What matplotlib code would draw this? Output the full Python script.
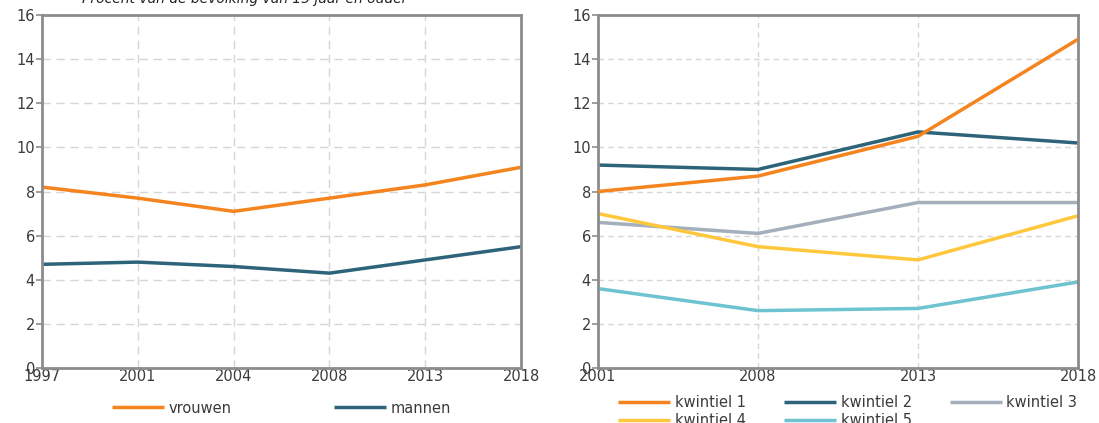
import numpy as np
import matplotlib.pyplot as plt

# left panel: by gender
years_l = ['1997', '2001', '2004', '2008', '2013', '2018']
vrouwen = [8.2, 7.7, 7.1, 7.7, 8.3, 9.1]
mannen = [4.7, 4.8, 4.6, 4.3, 4.9, 5.5]

# right panel: by income quintile
years_r = ['2001', '2008', '2013', '2018']
kw1 = [8.0, 8.7, 10.5, 14.9]
kw2 = [9.2, 9.0, 10.7, 10.2]
kw3 = [6.6, 6.1, 7.5, 7.5]
kw4 = [7.0, 5.5, 4.9, 6.9]
kw5 = [3.6, 2.6, 2.7, 3.9]

ORANGE = '#F5841F'
TEAL = '#2D6479'
GREY = '#A4AFBB'
YELLOW = '#FFC83C'
LBLUE = '#6EC3D1'
TXT = '#3a3a3a'

fig = plt.figure(figsize=(10.99, 4.23), dpi=100)
ax1 = fig.add_axes([0.0382, 0.130, 0.436, 0.8345])
ax2 = fig.add_axes([0.5441, 0.130, 0.4368, 0.8345])


def style(ax, labels, dash):
    n = len(labels)
    ax.set_xlim(0, n - 1)
    ax.set_ylim(0, 16)
    ax.set_xticks(range(n))
    ax.set_xticklabels(labels)
    ax.set_yticks(range(0, 17, 2))
    ax.grid(True, color='#d6d6d6', linestyle=(0, dash), linewidth=1)
    ax.set_axisbelow(True)
    for s in ax.spines.values():
        s.set_color('#8c8c8c')
        s.set_linewidth(2)
    ax.tick_params(axis='both', colors='#8c8c8c', labelcolor=TXT,
                   labelsize=10.5, length=4, width=1.2, pad=1)
    ax.tick_params(axis='x', length=0, pad=1)


lw = 2.5
x = np.arange(len(years_l))
ax1.plot(x, vrouwen, color=ORANGE, lw=lw, label='vrouwen', solid_capstyle='butt')
ax1.plot(x, mannen, color=TEAL, lw=lw, label='mannen', solid_capstyle='butt')
style(ax1, years_l, (6, 4))
ax1.legend(loc='upper center', bbox_to_anchor=(0.5, -0.055), ncol=2, frameon=False,
           fontsize=10.5, handlelength=3.6, columnspacing=7.0, handletextpad=0.3,
           labelcolor=TXT)

xr = np.arange(len(years_r))
series = [(kw1, ORANGE, 'kwintiel 1'), (kw2, TEAL, 'kwintiel 2'),
          (kw3, GREY, 'kwintiel 3'), (kw4, YELLOW, 'kwintiel 4'),
          (kw5, LBLUE, 'kwintiel 5')]
handles = []
for vals, c, name in series:
    h, = ax2.plot(xr, vals, color=c, lw=lw, label=name, solid_capstyle='butt')
    handles.append(h)
handles[0].set_zorder(3)
style(ax2, years_r, (4, 3))
# legend fills row by row: 1 2 3 / 4 5
order = [0, 3, 1, 4, 2]
ax2.legend([handles[i] for i in order], [series[i][2] for i in order],
           loc='upper center', bbox_to_anchor=(0.52, -0.04), ncol=3, frameon=False,
           fontsize=10.5, handlelength=3.6, columnspacing=2.6, handletextpad=0.3,
           labelspacing=0.2, labelcolor=TXT)

fig.text(0.223, 0.993, 'Procent van de bevolking van 15 jaar en ouder', ha='center',
         va='baseline', fontsize=10, style='italic', color='#222222')

fig.savefig('out.png', dpi=100)
